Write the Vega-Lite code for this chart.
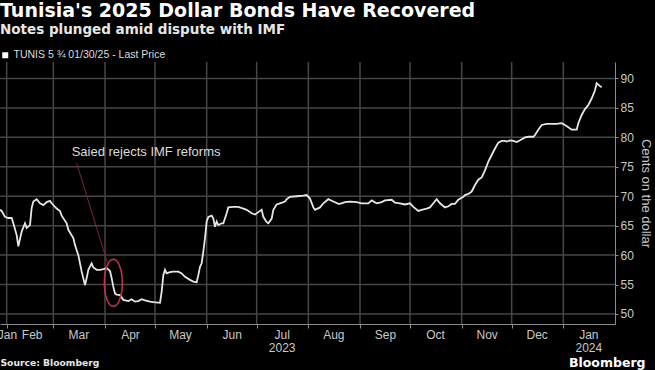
{
  "$schema": "https://vega.github.io/schema/vega-lite/v6.json",
  "width": 615,
  "height": 262,
  "autosize": {"type": "none"},
  "padding": {"left": 0, "top": 62, "right": 40, "bottom": 46},
  "background": "#000000",
  "title": {
    "text": "Tunisia's 2025 Dollar Bonds Have Recovered",
    "subtitle": "Notes plunged amid dispute with IMF",
    "anchor": "start",
    "frame": "group",
    "font": "DejaVu Sans",
    "fontSize": 19,
    "fontWeight": "bold",
    "color": "#ffffff",
    "subtitleFont": "DejaVu Sans",
    "subtitleFontSize": 13.5,
    "subtitleFontWeight": "bold",
    "subtitleColor": "#e6e6e6",
    "subtitlePadding": 2,
    "offset": 14
  },
  "datasets": {
    "levels": [
      {"level": 50}, {"level": 55}, {"level": 60}, {"level": 65}, {"level": 70},
      {"level": 75}, {"level": 80}, {"level": 85}, {"level": 90}
    ],
    "months": [
      {"month_start": "2023-02-01"}, {"month_start": "2023-03-01"}, {"month_start": "2023-04-01"},
      {"month_start": "2023-05-01"}, {"month_start": "2023-06-01"}, {"month_start": "2023-07-01"},
      {"month_start": "2023-08-01"}, {"month_start": "2023-09-01"}, {"month_start": "2023-10-01"},
      {"month_start": "2023-11-01"}, {"month_start": "2023-12-01"}, {"month_start": "2024-01-01"}
    ],
    "prices": [
      {"date": "2023-01-28", "price": 67.7},
      {"date": "2023-01-29", "price": 67.5},
      {"date": "2023-01-31", "price": 66.5},
      {"date": "2023-02-02", "price": 66.3},
      {"date": "2023-02-04", "price": 66.3},
      {"date": "2023-02-05", "price": 65.4},
      {"date": "2023-02-07", "price": 63.4},
      {"date": "2023-02-08", "price": 61.5},
      {"date": "2023-02-10", "price": 64.0},
      {"date": "2023-02-12", "price": 65.4},
      {"date": "2023-02-13", "price": 64.6},
      {"date": "2023-02-15", "price": 65.1},
      {"date": "2023-02-16", "price": 68.0},
      {"date": "2023-02-17", "price": 69.1},
      {"date": "2023-02-19", "price": 69.5},
      {"date": "2023-02-21", "price": 68.8},
      {"date": "2023-02-23", "price": 68.5},
      {"date": "2023-02-25", "price": 69.0},
      {"date": "2023-02-27", "price": 69.2},
      {"date": "2023-02-28", "price": 68.8},
      {"date": "2023-03-03", "price": 67.9},
      {"date": "2023-03-05", "price": 67.5},
      {"date": "2023-03-06", "price": 66.7},
      {"date": "2023-03-09", "price": 65.4},
      {"date": "2023-03-10", "price": 64.3},
      {"date": "2023-03-13", "price": 62.9},
      {"date": "2023-03-14", "price": 61.7},
      {"date": "2023-03-16", "price": 60.0},
      {"date": "2023-03-17", "price": 58.6},
      {"date": "2023-03-18", "price": 57.2},
      {"date": "2023-03-20", "price": 54.9},
      {"date": "2023-03-21", "price": 56.1},
      {"date": "2023-03-22", "price": 57.5},
      {"date": "2023-03-24", "price": 58.6},
      {"date": "2023-03-25", "price": 57.9},
      {"date": "2023-03-27", "price": 57.5},
      {"date": "2023-03-29", "price": 57.5},
      {"date": "2023-03-31", "price": 57.6},
      {"date": "2023-04-02", "price": 57.8},
      {"date": "2023-04-04", "price": 57.3},
      {"date": "2023-04-05", "price": 56.1},
      {"date": "2023-04-06", "price": 54.6},
      {"date": "2023-04-07", "price": 53.5},
      {"date": "2023-04-08", "price": 53.3},
      {"date": "2023-04-10", "price": 53.2},
      {"date": "2023-04-12", "price": 52.4},
      {"date": "2023-04-15", "price": 52.2},
      {"date": "2023-04-17", "price": 52.5},
      {"date": "2023-04-19", "price": 52.1},
      {"date": "2023-04-21", "price": 52.2},
      {"date": "2023-04-23", "price": 52.5},
      {"date": "2023-04-25", "price": 52.3},
      {"date": "2023-04-28", "price": 52.1},
      {"date": "2023-04-30", "price": 52.0},
      {"date": "2023-05-04", "price": 51.9},
      {"date": "2023-05-05", "price": 53.8},
      {"date": "2023-05-06", "price": 56.6},
      {"date": "2023-05-07", "price": 57.5},
      {"date": "2023-05-08", "price": 56.9},
      {"date": "2023-05-10", "price": 57.1},
      {"date": "2023-05-12", "price": 57.2},
      {"date": "2023-05-15", "price": 57.2},
      {"date": "2023-05-17", "price": 56.9},
      {"date": "2023-05-19", "price": 56.3},
      {"date": "2023-05-22", "price": 55.8},
      {"date": "2023-05-24", "price": 55.5},
      {"date": "2023-05-26", "price": 55.4},
      {"date": "2023-05-27", "price": 56.6},
      {"date": "2023-05-28", "price": 58.0},
      {"date": "2023-05-29", "price": 58.6},
      {"date": "2023-05-30", "price": 60.6},
      {"date": "2023-05-31", "price": 62.9},
      {"date": "2023-06-01", "price": 65.7},
      {"date": "2023-06-02", "price": 66.5},
      {"date": "2023-06-04", "price": 66.7},
      {"date": "2023-06-05", "price": 66.2},
      {"date": "2023-06-06", "price": 64.8},
      {"date": "2023-06-07", "price": 65.7},
      {"date": "2023-06-08", "price": 65.1},
      {"date": "2023-06-10", "price": 65.4},
      {"date": "2023-06-11", "price": 65.4},
      {"date": "2023-06-13", "price": 67.1},
      {"date": "2023-06-14", "price": 68.1},
      {"date": "2023-06-17", "price": 68.2},
      {"date": "2023-06-20", "price": 68.2},
      {"date": "2023-06-23", "price": 67.9},
      {"date": "2023-06-25", "price": 67.7},
      {"date": "2023-06-28", "price": 67.1},
      {"date": "2023-06-30", "price": 66.9},
      {"date": "2023-07-02", "price": 67.3},
      {"date": "2023-07-04", "price": 67.7},
      {"date": "2023-07-05", "price": 66.5},
      {"date": "2023-07-07", "price": 65.6},
      {"date": "2023-07-08", "price": 65.4},
      {"date": "2023-07-10", "price": 66.2},
      {"date": "2023-07-11", "price": 67.7},
      {"date": "2023-07-13", "price": 68.6},
      {"date": "2023-07-15", "price": 68.8},
      {"date": "2023-07-18", "price": 69.1},
      {"date": "2023-07-19", "price": 69.5},
      {"date": "2023-07-21", "price": 69.9},
      {"date": "2023-07-25", "price": 70.0},
      {"date": "2023-07-29", "price": 70.1},
      {"date": "2023-07-31", "price": 70.2},
      {"date": "2023-08-02", "price": 69.6},
      {"date": "2023-08-04", "price": 68.1},
      {"date": "2023-08-05", "price": 67.7},
      {"date": "2023-08-08", "price": 68.1},
      {"date": "2023-08-10", "price": 68.8},
      {"date": "2023-08-13", "price": 69.5},
      {"date": "2023-08-16", "price": 69.1},
      {"date": "2023-08-19", "price": 68.7},
      {"date": "2023-08-20", "price": 68.7},
      {"date": "2023-08-23", "price": 69.0},
      {"date": "2023-08-26", "price": 69.1},
      {"date": "2023-08-30", "price": 69.0},
      {"date": "2023-09-02", "price": 68.8},
      {"date": "2023-09-06", "price": 68.8},
      {"date": "2023-09-08", "price": 69.3},
      {"date": "2023-09-11", "price": 68.8},
      {"date": "2023-09-14", "price": 69.0},
      {"date": "2023-09-16", "price": 69.3},
      {"date": "2023-09-20", "price": 69.4},
      {"date": "2023-09-22", "price": 68.9},
      {"date": "2023-09-25", "price": 68.8},
      {"date": "2023-09-28", "price": 68.6},
      {"date": "2023-10-01", "price": 68.8},
      {"date": "2023-10-03", "price": 68.2},
      {"date": "2023-10-06", "price": 67.5},
      {"date": "2023-10-08", "price": 67.7},
      {"date": "2023-10-11", "price": 67.9},
      {"date": "2023-10-13", "price": 68.1},
      {"date": "2023-10-15", "price": 68.8},
      {"date": "2023-10-17", "price": 69.5},
      {"date": "2023-10-19", "price": 68.8},
      {"date": "2023-10-22", "price": 68.1},
      {"date": "2023-10-24", "price": 68.3},
      {"date": "2023-10-26", "price": 68.7},
      {"date": "2023-10-28", "price": 68.7},
      {"date": "2023-10-30", "price": 69.4},
      {"date": "2023-11-02", "price": 69.9},
      {"date": "2023-11-03", "price": 70.2},
      {"date": "2023-11-05", "price": 70.4},
      {"date": "2023-11-07", "price": 70.8},
      {"date": "2023-11-09", "price": 71.9},
      {"date": "2023-11-11", "price": 72.8},
      {"date": "2023-11-13", "price": 73.2},
      {"date": "2023-11-15", "price": 74.4},
      {"date": "2023-11-17", "price": 75.9},
      {"date": "2023-11-19", "price": 77.0},
      {"date": "2023-11-21", "price": 78.1},
      {"date": "2023-11-23", "price": 79.1},
      {"date": "2023-11-25", "price": 79.4},
      {"date": "2023-11-27", "price": 79.4},
      {"date": "2023-11-28", "price": 79.3},
      {"date": "2023-11-30", "price": 79.5},
      {"date": "2023-12-02", "price": 79.4},
      {"date": "2023-12-04", "price": 79.2},
      {"date": "2023-12-06", "price": 79.5},
      {"date": "2023-12-09", "price": 80.0},
      {"date": "2023-12-11", "price": 80.1},
      {"date": "2023-12-14", "price": 80.1},
      {"date": "2023-12-15", "price": 80.4},
      {"date": "2023-12-17", "price": 81.3},
      {"date": "2023-12-19", "price": 82.1},
      {"date": "2023-12-22", "price": 82.3},
      {"date": "2023-12-25", "price": 82.3},
      {"date": "2023-12-28", "price": 82.3},
      {"date": "2023-12-31", "price": 82.4},
      {"date": "2024-01-02", "price": 82.1},
      {"date": "2024-01-04", "price": 81.7},
      {"date": "2024-01-06", "price": 81.3},
      {"date": "2024-01-09", "price": 81.3},
      {"date": "2024-01-10", "price": 82.4},
      {"date": "2024-01-12", "price": 83.8},
      {"date": "2024-01-14", "price": 84.8},
      {"date": "2024-01-16", "price": 85.5},
      {"date": "2024-01-18", "price": 86.6},
      {"date": "2024-01-20", "price": 88.0},
      {"date": "2024-01-21", "price": 89.2},
      {"date": "2024-01-23", "price": 88.7},
      {"date": "2024-01-24", "price": 88.5}
    ],
    "notes": [
      {"label": "Saied rejects IMF reforms", "text_date": "2023-03-12", "text_price": 77.5, "from_date": "2023-03-15", "from_price": 75.6, "to_date": "2023-04-03", "to_price": 58.2, "circle_date": "2023-04-06", "circle_price": 55.3}
    ]
  },
  "layer": [
    {
      "data": {"name": "levels"},
      "mark": {"type": "rule", "color": "#464646", "strokeWidth": 1.5, "opacity": 1},
      "encoding": {
        "y": {"field": "level", "type": "quantitative", "axis": null}
      }
    },
    {
      "data": {"name": "months"},
      "mark": {"type": "rule", "color": "#464646", "strokeWidth": 1.5, "opacity": 1},
      "encoding": {
        "x": {"field": "month_start", "type": "temporal", "axis": null}
      }
    },
    {
      "data": {"name": "prices"},
      "mark": {"type": "line", "strokeWidth": 1.8, "interpolate": "linear"},
      "encoding": {
        "x": {
          "field": "date",
          "type": "temporal",
          "scale": {
            "type": "utc",
            "domain": [
              {"year": 2023, "month": 1, "date": 28, "utc": true},
              {"year": 2024, "month": 2, "date": 1, "utc": true}
            ]
          },
          "axis": {
            "orient": "bottom",
            "values": [
              {"year": 2023, "month": 1, "date": 28, "utc": true},
              {"year": 2023, "month": 2, "date": 1, "utc": true},
              {"year": 2023, "month": 3, "date": 1, "utc": true},
              {"year": 2023, "month": 4, "date": 1, "utc": true},
              {"year": 2023, "month": 5, "date": 1, "utc": true},
              {"year": 2023, "month": 6, "date": 1, "utc": true},
              {"year": 2023, "month": 7, "date": 1, "utc": true},
              {"year": 2023, "month": 8, "date": 1, "utc": true},
              {"year": 2023, "month": 9, "date": 1, "utc": true},
              {"year": 2023, "month": 10, "date": 1, "utc": true},
              {"year": 2023, "month": 11, "date": 1, "utc": true},
              {"year": 2023, "month": 12, "date": 1, "utc": true},
              {"year": 2024, "month": 1, "date": 1, "utc": true}
            ],
            "labelExpr": "utcmonth(datum.value) == 6 ? ['Jul', '2023'] : (utcyear(datum.value) == 2024 ? ['Jan', '2024'] : utcFormat(datum.value, '%b'))",
            "labelOffset": {"condition": {"test": "utcdate(datum.value) != 1", "value": 7}, "value": 25},
            "labelAlign": "center",
            "labelFlush": false,
            "labelOverlap": false,
            "labelPadding": 1,
            "labelLineHeight": 13,
            "labelBaseline": "top",
            "tickSize": 4,
            "tickOpacity": {"condition": {"test": "utcdate(datum.value) != 1", "value": 0}, "value": 1},
            "grid": false,
            "title": "Source: Bloomberg",
            "titleAnchor": "start",
            "titleAlign": "left",
            "titleBaseline": "middle",
            "titleX": 0,
            "titleY": 38,
            "titleFont": "DejaVu Sans",
            "titleFontSize": 9.2,
            "titleFontWeight": "bold",
            "titleColor": "#e6e6e6"
          }
        },
        "y": {
          "field": "price",
          "type": "quantitative",
          "scale": {"domain": [48.3, 92.8], "nice": false, "zero": false},
          "axis": {
            "orient": "right",
            "values": [50, 55, 60, 65, 70, 75, 80, 85, 90],
            "tickSize": 3,
            "labelPadding": 2,
            "grid": false,
            "title": "Cents on the dollar",
            "titleFontSize": 13,
            "titleFontWeight": "normal",
            "titlePadding": 5,
            "titleColor": "#c8c8c8"
          }
        },
        "color": {
          "datum": "TUNIS 5 ¾ 01/30/25 - Last Price",
          "type": "nominal",
          "scale": {"range": ["#e6e6e6"]},
          "legend": {
            "orient": "none",
            "legendX": 0,
            "legendY": -12,
            "title": null,
            "padding": 0,
            "symbolType": "square",
            "symbolSize": 36,
            "symbolFillColor": "#ffffff",
            "symbolStrokeColor": "#ffffff",
            "symbolStrokeWidth": 0,
            "labelFont": "Liberation Sans",
            "labelFontSize": 10.5,
            "labelColor": "#dcdcdc",
            "labelOffset": 3
          }
        }
      }
    },
    {
      "data": {"name": "notes"},
      "mark": {"type": "rule", "color": "#7d2434", "strokeWidth": 1},
      "encoding": {
        "x": {"field": "from_date", "type": "temporal", "axis": null},
        "y": {"field": "from_price", "type": "quantitative", "axis": null},
        "x2": {"field": "to_date"},
        "y2": {"field": "to_price"}
      }
    },
    {
      "data": {"name": "notes"},
      "mark": {
        "type": "point",
        "shape": "M0,-1 A0.383,1 0 1,1 0,1 A0.383,1 0 1,1 0,-1 Z",
        "size": 2209,
        "filled": false,
        "stroke": "#c2334f",
        "strokeWidth": 1.5,
        "opacity": 1
      },
      "encoding": {
        "x": {"field": "circle_date", "type": "temporal", "axis": null},
        "y": {"field": "circle_price", "type": "quantitative", "axis": null}
      }
    },
    {
      "data": {"name": "notes"},
      "mark": {"type": "text", "align": "left", "baseline": "middle", "fontSize": 13, "font": "Liberation Sans", "color": "#dcdcdc"},
      "encoding": {
        "x": {
          "field": "text_date",
          "type": "temporal",
          "axis": {
            "orient": "bottom",
            "labels": false,
            "ticks": false,
            "grid": false,
            "domain": false,
            "title": "Bloomberg",
            "titleAnchor": "end",
            "titleAlign": "right",
            "titleBaseline": "middle",
            "titleX": 645,
            "titleY": 38,
            "titleFont": "DejaVu Sans",
            "titleFontSize": 12.5,
            "titleFontWeight": "bold",
            "titleColor": "#ffffff"
          }
        },
        "y": {"field": "text_price", "type": "quantitative", "axis": null},
        "text": {"field": "label"}
      }
    }
  ],
  "resolve": {"axis": {"x": "independent", "y": "independent"}},
  "config": {
    "font": "Liberation Sans",
    "view": {"stroke": null},
    "axis": {
      "domainColor": "#8c8c8c",
      "tickColor": "#8c8c8c",
      "labelColor": "#c8c8c8",
      "labelFont": "Liberation Sans",
      "labelFontSize": 12,
      "titleFont": "Liberation Sans"
    }
  }
}
